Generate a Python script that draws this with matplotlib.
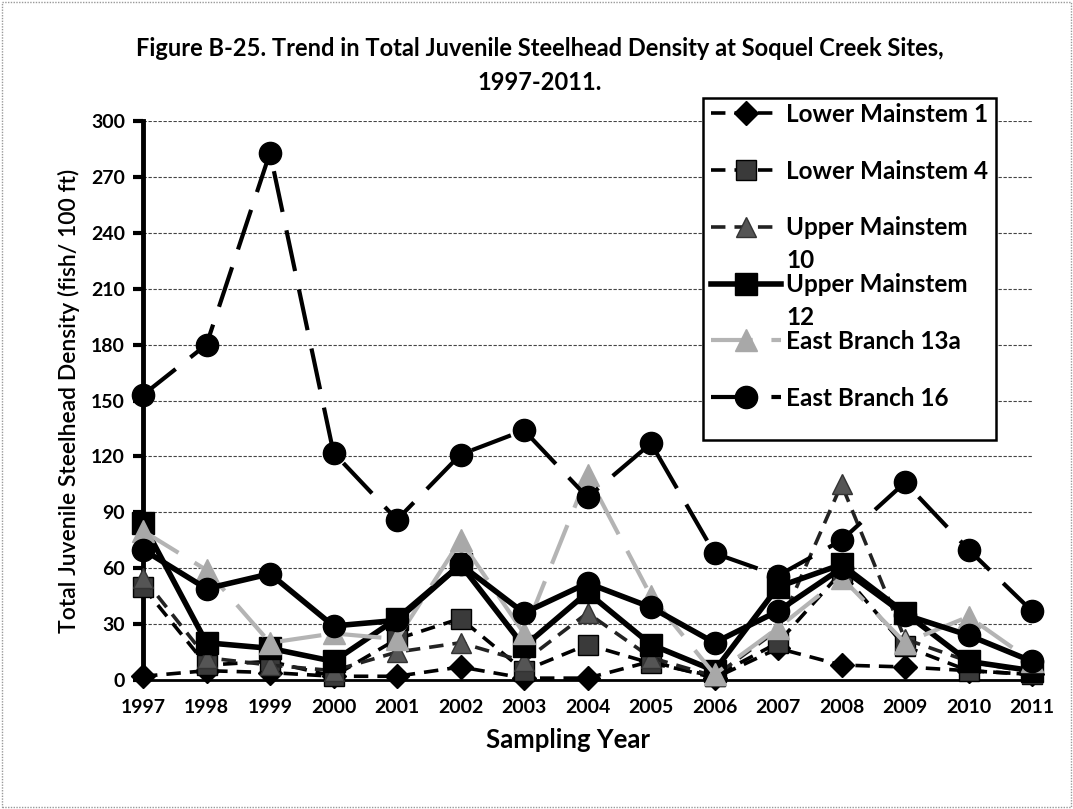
import matplotlib.pyplot as plt
from matplotlib.patches import Rectangle
from matplotlib.lines import Line2D

plt.rcParams['font.family'] = ['Lato', 'DejaVu Sans']

# values (fish / 100 ft)
years = [1997, 1998, 1999, 2000, 2001, 2002, 2003, 2004,
         2005, 2006, 2007, 2008, 2009, 2010, 2011]
lower_ms_1 = [2, 5, 4, 2, 2, 7, 1, 1, 10, 1, 17, 8, 7, 5, 3]
lower_ms_4 = [50, 8, 10, 2, 22, 33, 5, 19, 9, 2, 20, 58, 18, 5, 3]
upper_ms_10 = [55, 12, 8, 5, 15, 20, 10, 36, 12, 2, 27, 105, 22, 10, 4]
upper_ms_12 = [84, 20, 17, 10, 33, 62, 18, 47, 19, 5, 50, 62, 36, 10, 5]
east_br_13a = [80, 59, 20, 25, 22, 75, 25, 110, 45, 3, 28, 55, 20, 34, 10]
east_br_16 = [153, 180, 283, 122, 86, 121, 134, 98, 127, 68, 56, 75, 106, 70, 37]
# 7th series: drawn in the chart, its legend entry is cut off in the original
unnamed_site = [70, 49, 57, 29, 32, 62, 36, 52, 39, 20, 37, 60, 35, 24, 10]

y_ticks = list(range(0, 301, 30))

W, H = 1073, 809
fig = plt.figure(figsize=(W / 100, H / 100), dpi=100)
ax = fig.add_axes([143 / W, 1 - 680 / H, (1032 - 143) / W, (680 - 121) / H])

short_dash = (4, 2.5)
long_dash = (10, 4.5)

st_lm1 = dict(color='black', lw=2.6, dashes=short_dash, marker='D', ms=12, mfc='black', mec='black')
st_lm4 = dict(color='black', lw=2.6, dashes=short_dash, marker='s', ms=14, mfc='#3a3a3a', mec='black')
st_um10 = dict(color='#222222', lw=2.6, dashes=short_dash, marker='^', ms=15, mfc='#555555', mec='#333333')
st_um12 = dict(color='black', lw=4, linestyle='-', marker='s', ms=16, mfc='black', mec='black')
st_eb13a = dict(color='#b4b4b4', lw=3, dashes=long_dash, marker='^', ms=16, mfc='#a8a8a8', mec='#a8a8a8')
st_eb16 = dict(color='black', lw=3, dashes=long_dash, marker='o', ms=16, mfc='black', mec='black')
st_unk = dict(color='black', lw=4, linestyle='-', marker='o', ms=16, mfc='black', mec='black')

ax.plot(years, lower_ms_1, clip_on=False, zorder=3, **st_lm1)
ax.plot(years, lower_ms_4, clip_on=False, zorder=3, **st_lm4)
ax.plot(years, upper_ms_10, clip_on=False, zorder=3, **st_um10)
ax.plot(years, upper_ms_12, clip_on=False, zorder=4, **st_um12)
ax.plot(years, east_br_13a, clip_on=False, zorder=4, **st_eb13a)
ax.plot(years, east_br_16, clip_on=False, zorder=5, **st_eb16)
ax.plot(years, unnamed_site, clip_on=False, zorder=5, **st_unk)

ax.set_xlim(1997, 2011)
ax.set_ylim(0, 300)
ax.set_xticks(years)
ax.set_xticklabels([str(y) for y in years], fontsize=14, fontweight='bold')
ax.set_yticks(y_ticks)
ax.set_yticklabels([str(v) for v in y_ticks], fontsize=14, fontweight='bold')
ax.tick_params(axis='x', length=0, pad=14)
ax.tick_params(axis='y', direction='out', length=7, width=3, pad=6)

ax.yaxis.grid(True, linestyle=(0, (3, 1.5)), color='#444444', lw=0.8)
ax.set_axisbelow(True)
for s in ['top', 'right']:
    ax.spines[s].set_visible(False)
ax.spines['left'].set_linewidth(3.5)
ax.spines['bottom'].set_linewidth(2)

ax.set_ylabel('Total Juvenile Steelhead Density (fish/ 100 ft)', fontsize=16.5,
              fontweight='semibold', labelpad=8)
fig.text(568 / W, 1 - 740 / H, 'Sampling Year', ha='center', va='center',
         fontsize=18.5, fontweight='bold')

fig.text(540 / W, 1 - 48 / H,
         'Figure B-25. Trend in Total Juvenile Steelhead Density at Soquel Creek Sites,',
         ha='center', va='center', fontsize=17, fontweight='bold')
fig.text(540 / W, 1 - 82 / H, '1997-2011.', ha='center', va='center',
         fontsize=17, fontweight='bold')

# legend box: the scan leaves an empty strip under the last entry
ax.add_patch(Rectangle((703 / W, 1 - 440 / H), 293 / W, 342 / H, transform=fig.transFigure,
                       facecolor='white', edgecolor='black', lw=1.8, clip_on=False, zorder=9))
handles = [Line2D([], [], **st) for st in [st_lm1, st_lm4, st_um10, st_um12, st_eb13a, st_eb16]]
labels = ['Lower Mainstem 1', 'Lower Mainstem 4', 'Upper Mainstem', 'Upper Mainstem',
          'East Branch 13a', 'East Branch 16']
leg = ax.legend(handles, labels, loc='upper left',
                bbox_to_anchor=(706 / W, 1 - 98 / H), bbox_transform=fig.transFigure,
                borderaxespad=0, frameon=False,
                prop={'size': 17.5, 'weight': 'bold'}, handlelength=2.9,
                handletextpad=0.2, labelspacing=1.39, borderpad=0.2)
leg.set_zorder(10)
for idx, extra in [(2, '10'), (3, '12')]:
    ax.annotate(extra, xy=(0, 0), xycoords=leg.get_texts()[idx], xytext=(0, -7),
                textcoords='offset points', ha='left', va='top',
                fontsize=17.5, fontweight='bold', zorder=11, annotation_clip=False)

fig.patches.append(Rectangle((0.002, 0.002), 0.996, 0.996, transform=fig.transFigure,
                             fill=False, edgecolor='#999999', lw=1, linestyle=(0, (1, 1))))

fig.savefig('out.png', dpi=100)
